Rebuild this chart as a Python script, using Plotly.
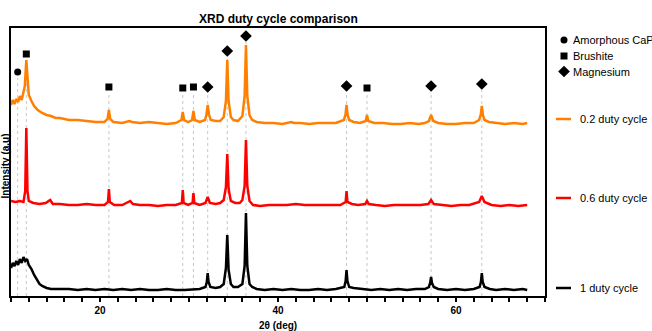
import plotly.graph_objects as go

# ---------------- data ----------------
# (2θ, raw intensity a.u.) for each duty cycle
pattern_02 = [(10.0, 26), (10.2, 31), (10.4, 27), (10.6, 32), (10.8, 29), (11.0, 35), (11.2, 31), (11.4, 38),
              (11.55, 45), (11.72, 71), (11.85, 50), (12.0, 36), (12.3, 30), (12.6, 25), (13.0, 21), (13.5, 18),
              (14.0, 16), (14.5, 15), (15.0, 13), (15.5, 13), (16.5, 11), (17.5, 11), (18.5, 10), (19.5, 9),
              (20.5, 9), (20.85, 12), (21.0, 21), (21.15, 12), (21.5, 9), (22.5, 8), (23.3, 10), (23.6, 9),
              (24.5, 8), (25.5, 9), (26.5, 8), (27.5, 7), (28.5, 8), (29.15, 11), (29.3, 19), (29.45, 11),
              (29.9, 9), (30.35, 11), (30.5, 20), (30.65, 11), (31.2, 9), (31.8, 11), (31.95, 16), (32.1, 26),
              (32.25, 16), (32.45, 11), (33.0, 10), (33.5, 10), (33.9, 14), (34.15, 30), (34.3, 71), (34.45, 30),
              (34.7, 14), (35.0, 11), (35.5, 10), (36.0, 15), (36.25, 35), (36.4, 86), (36.55, 35), (36.8, 16),
              (37.1, 11), (37.6, 9), (38.5, 8), (39.5, 8), (40.5, 7), (41.5, 9), (41.8, 8), (42.5, 8),
              (43.5, 7), (44.5, 8), (45.5, 8), (46.5, 8), (47.4, 11), (47.58, 16), (47.7, 26), (47.82, 16),
              (48.0, 11), (48.5, 9), (49.2, 8), (49.85, 10), (50.0, 16), (50.15, 10), (50.8, 8), (51.8, 8),
              (52.8, 7), (53.8, 7), (54.8, 8), (55.8, 7), (56.5, 8), (56.95, 10), (57.2, 16), (57.45, 10),
              (58.0, 8), (59.0, 7), (60.0, 7), (61.0, 8), (62.0, 8), (62.6, 11), (62.78, 16), (62.9, 25),
              (63.02, 16), (63.2, 11), (63.7, 9), (64.5, 8), (65.5, 7), (66.5, 8), (67.5, 7), (68.0, 8)]

pattern_06 = [(10.0, 10), (10.5, 9), (11.0, 10), (11.4, 9), (11.6, 20), (11.72, 83), (11.85, 20), (12.0, 10),
              (12.5, 8), (13.2, 7), (13.9, 8), (14.4, 11), (14.7, 7), (15.5, 7), (16.5, 6), (17.5, 6),
              (18.5, 7), (19.5, 6), (20.5, 6), (20.9, 9), (21.0, 22), (21.1, 9), (21.6, 6), (22.5, 6),
              (23.4, 10), (23.7, 7), (24.5, 6), (25.5, 6), (26.5, 5), (27.5, 6), (28.5, 6), (29.2, 8),
              (29.3, 21), (29.4, 8), (29.9, 6), (30.4, 8), (30.5, 18), (30.6, 8), (31.2, 6), (31.85, 8),
              (32.1, 14), (32.35, 8), (33.0, 7), (33.5, 8), (33.9, 11), (34.15, 24), (34.3, 57), (34.45, 22),
              (34.7, 10), (35.2, 8), (35.7, 8), (36.0, 11), (36.25, 25), (36.4, 71), (36.55, 25), (36.8, 10),
              (37.2, 6), (38.0, 5), (39.0, 6), (40.0, 6), (41.0, 6), (42.0, 7), (43.0, 6), (44.0, 6),
              (45.0, 6), (46.0, 6), (47.0, 6), (47.6, 9), (47.7, 20), (47.8, 9), (48.3, 7), (49.0, 6),
              (49.8, 7), (50.0, 10), (50.2, 7), (51.0, 6), (52.0, 5), (53.0, 6), (54.0, 6), (55.0, 6),
              (56.0, 6), (56.9, 7), (57.2, 11), (57.5, 7), (58.5, 6), (59.5, 5), (60.5, 6), (61.5, 6),
              (62.6, 9), (62.9, 15), (63.2, 9), (64.0, 6), (65.0, 5), (66.0, 6), (67.0, 5), (68.0, 6)]

pattern_10 = [(10.0, 28), (10.2, 33), (10.4, 30), (10.6, 35), (10.8, 31), (11.0, 37), (11.2, 33), (11.4, 39),
              (11.6, 35), (11.8, 37), (12.0, 31), (12.3, 27), (12.6, 21), (12.9, 16), (13.2, 12), (13.5, 10),
              (14.0, 8), (14.5, 7), (15.5, 7), (16.5, 7), (17.5, 6), (18.5, 7), (19.5, 6), (20.5, 7),
              (21.5, 6), (22.5, 7), (23.5, 6), (24.5, 7), (25.5, 6), (26.5, 6), (27.5, 7), (28.5, 6),
              (29.5, 6), (30.5, 7), (31.2, 7), (31.85, 9), (32.0, 14), (32.1, 23), (32.2, 14), (32.4, 9),
              (33.0, 8), (33.5, 9), (33.9, 12), (34.15, 28), (34.3, 61), (34.45, 26), (34.7, 12), (35.0, 9),
              (35.5, 9), (36.0, 12), (36.25, 30), (36.4, 83), (36.55, 30), (36.8, 12), (37.1, 9), (37.6, 7),
              (38.5, 6), (39.5, 7), (40.5, 6), (41.5, 7), (42.5, 6), (43.5, 6), (44.5, 7), (45.5, 6),
              (46.5, 7), (47.45, 9), (47.6, 15), (47.7, 26), (47.8, 15), (48.0, 9), (48.5, 8), (49.5, 7),
              (50.5, 6), (51.5, 7), (52.5, 6), (53.5, 7), (54.5, 6), (55.5, 7), (56.5, 7), (56.95, 9),
              (57.1, 13), (57.2, 19), (57.3, 13), (57.5, 9), (58.0, 7), (59.0, 6), (60.0, 7), (61.0, 6),
              (62.0, 7), (62.65, 9), (62.8, 14), (62.9, 23), (63.0, 14), (63.2, 9), (63.8, 7), (64.5, 6),
              (65.5, 7), (66.5, 6), (67.5, 7), (68.0, 6)]

series_names = ["0.2 duty cycle", "0.6 duty cycle", "1 duty cycle"]
series_colors = ["#ff8000", "#ff0000", "#000000"]
series_offsets = [165, 85, 0]

# phase markers
amorphous_x = [10.75]
amorphous_y = [224]
brushite_x = [11.72, 21.0, 29.3, 30.5, 50.0]
brushite_y = [242, 209, 208, 209, 208]
magnesium_x = [32.1, 34.3, 36.4, 47.7, 57.2, 62.9]
magnesium_y = [209, 245, 260, 210, 210, 212]

x_ticks = [20, 40, 60]

FONT = "Liberation Sans, Arial, sans-serif"

fig = go.Figure()

# dotted reference lines
dx, dy = [], []
for xs, ys in [(amorphous_x, amorphous_y), (brushite_x, brushite_y), (magnesium_x, magnesium_y)]:
    for x, y in zip(xs, ys):
        dx += [x, x, None]
        dy += [0, y - 6, None]
fig.add_trace(go.Scatter(x=dx, y=dy, mode="lines", showlegend=False, hoverinfo="skip",
                         line=dict(color="#c8c8c8", width=1, dash="dot")))

# spectra
for pat, name, col, off in zip([pattern_02, pattern_06, pattern_10], series_names, series_colors, series_offsets):
    tt = [p[0] for p in pat]
    inten = [p[1] + off for p in pat]
    fig.add_trace(go.Scatter(x=tt, y=inten, mode="lines", name=name, showlegend=False,
                             line=dict(color=col, width=2.5)))

# phase markers
fig.add_trace(go.Scatter(x=amorphous_x, y=amorphous_y, mode="markers", showlegend=False,
                         marker=dict(symbol="circle", size=7, color="black")))
fig.add_trace(go.Scatter(x=brushite_x, y=brushite_y, mode="markers", showlegend=False,
                         marker=dict(symbol="square", size=7, color="black")))
fig.add_trace(go.Scatter(x=magnesium_x, y=magnesium_y, mode="markers", showlegend=False,
                         marker=dict(symbol="diamond", size=9, color="black")))

# ---- manual legend on a pixel-coordinate overlay axis ----
fig.add_trace(go.Scatter(x=[564], y=[40], mode="markers", xaxis="x2", yaxis="y2", showlegend=False,
                         marker=dict(symbol="circle", size=7, color="black")))
fig.add_trace(go.Scatter(x=[564], y=[56], mode="markers", xaxis="x2", yaxis="y2", showlegend=False,
                         marker=dict(symbol="square", size=7, color="black")))
fig.add_trace(go.Scatter(x=[564], y=[71.5], mode="markers", xaxis="x2", yaxis="y2", showlegend=False,
                         marker=dict(symbol="diamond", size=9, color="black")))
legend_line_y = [119, 198, 288]
for yy, col in zip(legend_line_y, series_colors):
    fig.add_trace(go.Scatter(x=[556, 571], y=[yy, yy], mode="lines", xaxis="x2", yaxis="y2",
                             showlegend=False, line=dict(color=col, width=2.5)))

annotations = []
for txt, yy in [("Amorphous CaP", 40), ("Brushite", 56), ("Magnesium", 71.5)]:
    annotations.append(dict(text=txt, x=571, y=yy, xref="x2", yref="y2", xanchor="left", yanchor="middle",
                            showarrow=False, font=dict(family=FONT, size=11, color="black")))
for txt, yy in zip(series_names, legend_line_y):
    annotations.append(dict(text=txt, x=578, y=yy, xref="x2", yref="y2", xanchor="left", yanchor="middle",
                            showarrow=False, font=dict(family=FONT, size=11, color="black")))
# titles
annotations.append(dict(text="XRD duty cycle comparison", x=278, y=19, xref="x2", yref="y2",
                        xanchor="center", yanchor="middle", showarrow=False,
                        font=dict(family=FONT, size=12, color="black", weight="bold")))
annotations.append(dict(text="2θ (deg)", x=278, y=325, xref="x2", yref="y2",
                        xanchor="center", yanchor="middle", showarrow=False,
                        font=dict(family=FONT, size=10, color="black", weight="bold")))
annotations.append(dict(text="Intensity (a.u)", x=4.5, y=166, xref="x2", yref="y2", textangle=-90,
                        xanchor="center", yanchor="middle", showarrow=False,
                        font=dict(family=FONT, size=10, color="black", weight="bold")))

fig.update_layout(
    width=652, height=331,
    margin=dict(l=0, r=0, t=0, b=0),
    paper_bgcolor="white", plot_bgcolor="rgba(0,0,0,0)",
    font=dict(family=FONT, color="black"),
    annotations=annotations,
    xaxis=dict(domain=[11 / 652, 545 / 652], range=[10, 70], tickvals=x_ticks, ticks="outside",
               ticklen=4, tickwidth=1.5, tickcolor="black",
               minor=dict(dtick=2, tick0=0, ticks="outside", ticklen=4, tickwidth=1.5, tickcolor="black"),
               showline=True, linewidth=2, linecolor="black", mirror=True, showgrid=False, zeroline=False,
               tickfont=dict(family=FONT, size=10, color="black", weight="bold")),
    yaxis=dict(domain=[35 / 331, 303 / 331], range=[0, 268], showticklabels=False, ticks="",
               showline=True, linewidth=2, linecolor="black", mirror=True, showgrid=False, zeroline=False),
    xaxis2=dict(domain=[0, 1], range=[0, 652], visible=False, fixedrange=True),
    yaxis2=dict(domain=[0, 1], range=[331, 0], visible=False, fixedrange=True),
)

fig.write_html("out.html")
